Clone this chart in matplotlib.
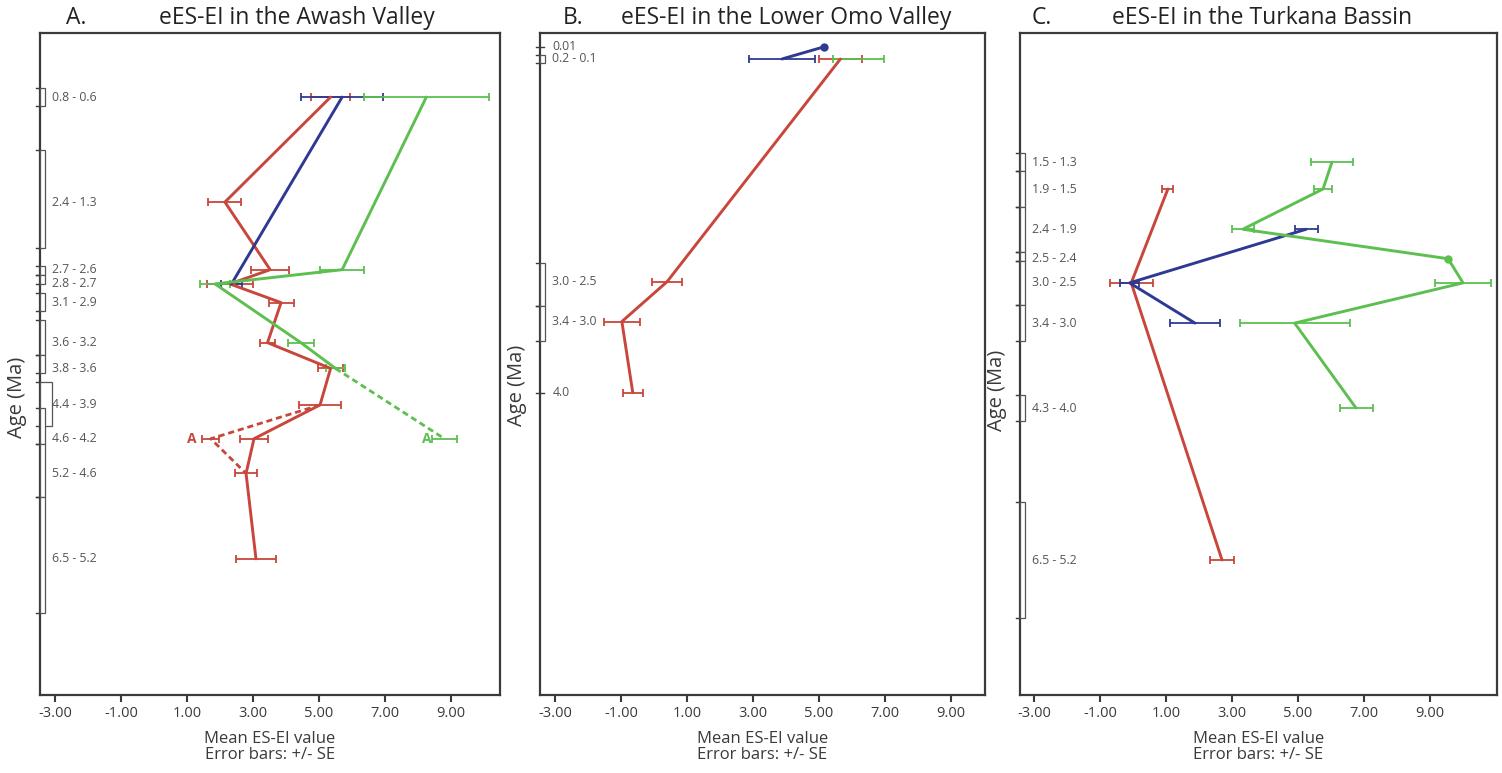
import numpy as np
import matplotlib
matplotlib.use("Agg")
import matplotlib.pyplot as plt
from matplotlib.transforms import blended_transform_factory, offset_copy
from matplotlib.patches import Rectangle

plt.rcParams['font.family'] = ['Open Sans', 'DejaVu Sans']
plt.rcParams['axes.unicode_minus'] = False

nan = np.nan
RED = '#c8463b'
BLUE = '#2e3a92'
GREEN = '#5cbf50'
DARK = '#3a3a3a'
GREY = '#555555'

# ---------------- Panel A : Awash Valley ----------------
a_labels = ["0.8 - 0.6", "2.4 - 1.3", "2.7 - 2.6", "2.8 - 2.7", "3.1 - 2.9", "3.6 - 3.2",
            "3.8 - 3.6", "4.4 - 3.9", "4.6 - 4.2", "5.2 - 4.6", "6.5 - 5.2"]
a_lo = [0.6, 1.3, 2.6, 2.7, 2.9, 3.2, 3.6, 3.9, 4.2, 4.6, 5.2]
a_hi = [0.8, 2.4, 2.7, 2.8, 3.1, 3.6, 3.8, 4.4, 4.6, 5.2, 6.5]
a_pos = [0.70, 1.88, 2.64, 2.80, 3.01, 3.46, 3.75, 4.16, 4.54, 4.93, 5.89]
a_red = [5.35, 2.15, 3.52, 2.30, 3.85, 3.44, 5.35, 5.03, 3.03, 2.79, 3.09]
a_red_se = [0.60, 0.50, 0.58, 0.70, 0.38, 0.23, 0.38, 0.63, 0.42, 0.33, 0.60]
a_blue = [5.70, nan, nan, 2.35, nan, nan, nan, nan, nan, nan, nan]
a_blue_se = [1.25, nan, nan, 0.33, nan, nan, nan, nan, nan, nan, nan]
a_green = [8.25, nan, 5.70, 1.85, nan, 4.45, 5.50, nan, nan, nan, nan]
a_green_se = [1.90, nan, 0.67, 0.45, nan, 0.40, 0.30, nan, nan, nan, nan]
# outlier sample "A" (dashed)
a_out_label = "A"
a_out_period = "4.6 - 4.2"
a_out_red, a_out_red_se = 1.72, 0.25
a_out_green, a_out_green_se = 8.80, 0.38

# ---------------- Panel B : Lower Omo Valley ----------------
b_labels = ["0.01", "0.2 - 0.1", "3.0 - 2.5", "3.4 - 3.0", "4.0"]
b_lo = [0.01, 0.1, 2.5, 3.0, 4.0]
b_hi = [0.01, 0.2, 3.0, 3.4, 4.0]
b_pos = [0.01, 0.15, 2.72, 3.18, 4.0]
b_red = [nan, 5.65, 0.40, -0.97, -0.64]
b_red_se = [nan, 0.64, 0.45, 0.55, 0.30]
b_blue = [5.15, 3.88, nan, nan, nan]
b_blue_se = [nan, 1.00, nan, nan, nan]
b_green = [nan, 6.20, nan, nan, nan]
b_green_se = [nan, 0.76, nan, nan, nan]

# ---------------- Panel C : Turkana Basin ----------------
c_labels = ["1.5 - 1.3", "1.9 - 1.5", "2.4 - 1.9", "2.5 - 2.4", "3.0 - 2.5", "3.4 - 3.0",
            "4.3 - 4.0", "6.5 - 5.2"]
c_lo = [1.3, 1.5, 1.9, 2.4, 2.5, 3.0, 4.0, 5.2]
c_hi = [1.5, 1.9, 2.4, 2.5, 3.0, 3.4, 4.3, 6.5]
c_pos = [1.40, 1.70, 2.15, 2.48, 2.75, 3.20, 4.15, 5.85]
c_red = [nan, 1.06, nan, nan, -0.05, nan, nan, 2.70]
c_red_se = [nan, 0.17, nan, nan, 0.65, nan, nan, 0.36]
c_blue = [nan, nan, 5.25, nan, -0.10, 1.88, nan, nan]
c_blue_se = [nan, nan, 0.35, nan, 0.30, 0.76, nan, nan]
c_green = [6.03, 5.76, 3.33, 9.55, 10.00, 4.90, 6.76, nan]
c_green_se = [0.64, 0.26, 0.33, nan, 0.85, 1.67, 0.50, nan]

x_ticks = [-3, -1, 1, 3, 5, 7, 9]

W, H = 1502, 773
fig = plt.figure(figsize=(W / 100, H / 100), dpi=100)


def px_axes(l, r, t, b):
    return fig.add_axes([l / W, 1 - b / H, (r - l) / W, (b - t) / H])


def series(ax, pos, vals, ses, color):
    pos = np.asarray(pos, float)
    vals = np.asarray(vals, float)
    ses = np.asarray(ses, float)
    m = ~np.isnan(vals)
    ax.plot(vals[m], pos[m], color=color, lw=2.1, solid_capstyle='round', zorder=3)
    e = m & ~np.isnan(ses)
    ax.errorbar(vals[e], pos[e], xerr=ses[e], fmt='none', ecolor=color, elinewidth=1.3,
                capsize=2.8, capthick=1.3, zorder=2)
    single = m & np.isnan(ses)
    if single.any():
        ax.plot(vals[single], pos[single], 'o', color=color, ms=5, zorder=4)


def age_axis(ax, labels, lo, hi, pos, width_px):
    tr = blended_transform_factory(ax.transAxes, ax.transData)
    w = 4.5 / width_px
    tk = 4.0 / width_px
    for i, (lab, l, h, p) in enumerate(zip(labels, lo, hi, pos)):
        if l == h:
            ax.plot([-tk, tk], [l, l], color=DARK, lw=1.0, transform=tr, clip_on=False)
        else:
            overlap = i + 1 < len(lo) and h > lo[i + 1] and lo[i + 1] != hi[i + 1]
            ww = 2.6 * w if overlap else w
            ax.add_patch(Rectangle((0, l), ww, h - l, transform=tr, fill=True, fc='white',
                                   ec=GREY, lw=0.9, clip_on=False, zorder=5))
            for b in (l, h):
                ax.plot([-tk, 0], [b, b], color=DARK, lw=1.0, transform=tr, clip_on=False)
        ax.text(12.5 / width_px, p, lab, transform=tr, fontsize=8.8, color=GREY,
                ha='left', va='center')


def style(ax, xlim, ylim, width_px, ylab_y):
    ax.set_xlim(*xlim)
    ax.set_ylim(*ylim)
    ax.set_yticks([])
    ax.set_xticks(x_ticks)
    ax.set_xticklabels([f"{t:.2f}" for t in x_ticks], fontsize=10.5, color=DARK)
    ax.tick_params(axis='x', length=5, width=1.5, color=DARK, pad=3)
    for s in ax.spines.values():
        s.set_linewidth(1.6)
        s.set_color(DARK)
    ax.set_xlabel("Mean ES-EI value\nError bars: +/- SE", fontsize=12, color=DARK,
                  linespacing=1.0, labelpad=7)
    ax.set_ylabel("Age (Ma)", fontsize=14.5, color=DARK)
    ax.yaxis.set_label_coords(-13 / width_px, ylab_y)


# ---- Panel A ----
axA = px_axes(40, 500, 33, 695)
style(axA, (-3.45, 10.48), (7.42, -0.02), 460, 0.45)
age_axis(axA, a_labels, a_lo, a_hi, a_pos, 460)
series(axA, a_pos, a_red, a_red_se, RED)
series(axA, a_pos, a_blue, a_blue_se, BLUE)
series(axA, a_pos, a_green, a_green_se, GREEN)
iy = a_labels.index(a_out_period)
oy = a_pos[iy]
i_prev = a_labels.index("4.4 - 3.9")
i_next = a_labels.index("5.2 - 4.6")
axA.plot([a_red[i_prev], a_out_red, a_red[i_next]], [a_pos[i_prev], oy, a_pos[i_next]],
         color=RED, lw=2.0, ls=(0, (2.2, 1.4)), zorder=3)
i_g = a_labels.index("3.8 - 3.6")
axA.plot([a_green[i_g], a_out_green], [a_pos[i_g], oy], color=GREEN, lw=2.0,
         ls=(0, (2.2, 1.4)), zorder=3)
axA.errorbar([a_out_red], [oy], xerr=[a_out_red_se], fmt='none', ecolor=RED, elinewidth=1.3,
             capsize=2.8, capthick=1.3)
axA.errorbar([a_out_green], [oy], xerr=[a_out_green_se], fmt='none', ecolor=GREEN,
             elinewidth=1.3, capsize=2.8, capthick=1.3)
axA.text(a_out_red, oy, a_out_label, color=RED, fontsize=10, fontweight='bold',
         ha='right', va='center',
         transform=offset_copy(axA.transData, fig=fig, x=-14, y=0, units='dots'))
axA.text(a_out_green, oy, a_out_label, color=GREEN, fontsize=10, fontweight='bold',
         ha='right', va='center',
         transform=offset_copy(axA.transData, fig=fig, x=-13, y=0, units='dots'))

# ---- Panel B ----
axB = px_axes(540, 985, 33, 695)
style(axB, (-3.45, 10.03), (7.49, -0.15), 445, 0.468)
age_axis(axB, b_labels, b_lo, b_hi, b_pos, 445)
series(axB, b_pos, b_red, b_red_se, RED)
series(axB, b_pos, b_green, b_green_se, GREEN)
series(axB, b_pos, b_blue, b_blue_se, BLUE)

# ---- Panel C ----
axC = px_axes(1020, 1497, 33, 695)
style(axC, (-3.42, 11.03), (7.36, -0.045), 477, 0.46)
age_axis(axC, c_labels, c_lo, c_hi, c_pos, 477)
series(axC, c_pos, c_red, c_red_se, RED)
series(axC, c_pos, c_blue, c_blue_se, BLUE)
series(axC, c_pos, c_green, c_green_se, GREEN)

# ---- Titles ----
ty = 1 - 18 / H
for lx, letter, cx, title in [(76, "A.", 297, "eES-EI in the Awash Valley"),
                              (573, "B.", 786, "eES-EI in the Lower Omo Valley"),
                              (1042, "C.", 1262, "eES-EI in the Turkana Bassin")]:
    fig.text(lx / W, ty, letter, fontsize=16.5, color='#222222', ha='center', va='center')
    fig.text(cx / W, ty, title, fontsize=16.5, color='#222222', ha='center', va='center')

fig.savefig("out.png", dpi=100)
